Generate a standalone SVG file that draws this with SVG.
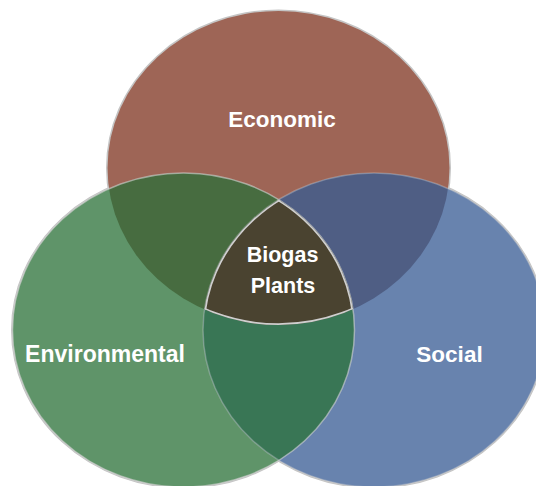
<svg xmlns="http://www.w3.org/2000/svg" width="536" height="486" viewBox="0 0 536 486">
<style>
.lbl{font-family:"Liberation Sans",Arial,sans-serif;font-weight:bold;fill:#ffffff;text-anchor:middle;}
.outer{fill:none;stroke:#c4c4c4;stroke-width:3;}
.edge{fill:none;stroke:#d4d4d4;stroke-width:1.5;}
</style>
<defs>
<clipPath id="cTop"><ellipse cx="278.5" cy="168" rx="171" ry="157"/></clipPath>
<clipPath id="cLeft"><ellipse cx="183.5" cy="330" rx="171" ry="157"/></clipPath>
<clipPath id="cRight"><ellipse cx="374" cy="330" rx="171" ry="157"/></clipPath>
</defs>
<rect width="536" height="486" fill="#ffffff"/>
<g id="outlines">
<ellipse class="outer" cx="278.5" cy="168" rx="171" ry="157"/>
<ellipse class="outer" cx="183.5" cy="330" rx="171" ry="157"/>
<ellipse class="outer" cx="374" cy="330" rx="171" ry="157"/>
</g>
<g id="economic">
<ellipse cx="278.5" cy="168" rx="171" ry="157" fill="#9e6556"/>
</g>
<g id="environmental">
<ellipse cx="183.5" cy="330" rx="171" ry="157" fill="#5f9469"/>
</g>
<g id="social">
<ellipse cx="374" cy="330" rx="171" ry="157" fill="#6883ae"/>
</g>
<g id="overlaps">
<ellipse cx="278.5" cy="168" rx="171" ry="157" fill="#476c40" clip-path="url(#cLeft)"/>
<ellipse cx="278.5" cy="168" rx="171" ry="157" fill="#4f5e84" clip-path="url(#cRight)"/>
<ellipse cx="183.5" cy="330" rx="171" ry="157" fill="#397655" clip-path="url(#cRight)"/>
<ellipse cx="374" cy="330" rx="171" ry="157" class="edge" stroke-opacity="0.35"/>
<ellipse cx="183.5" cy="330" rx="171" ry="157" class="edge" stroke-opacity="0.6"/>
</g>
<g id="biogas">
<g clip-path="url(#cTop)">
<g clip-path="url(#cLeft)">
<g clip-path="url(#cRight)">
<rect x="150" y="150" width="250" height="200" fill="#4a4330"/>
<ellipse cx="278.5" cy="168" rx="171" ry="157" fill="none" stroke="#cfcfcf" stroke-width="3.5"/>
<ellipse cx="183.5" cy="330" rx="171" ry="157" fill="none" stroke="#cfcfcf" stroke-width="3.5"/>
<ellipse cx="374" cy="330" rx="171" ry="157" fill="none" stroke="#cfcfcf" stroke-width="3.5"/>
</g>
</g>
</g>
<text class="lbl" x="282.5" y="262" font-size="21.5">Biogas</text>
<text class="lbl" x="283" y="293" font-size="21.5">Plants</text>
</g>
<g id="labels">
<text class="lbl" x="282" y="127" font-size="22.5">Economic</text>
<text class="lbl" x="105" y="362" font-size="23">Environmental</text>
<text class="lbl" x="449.5" y="362" font-size="22.5">Social</text>
</g>
</svg>
